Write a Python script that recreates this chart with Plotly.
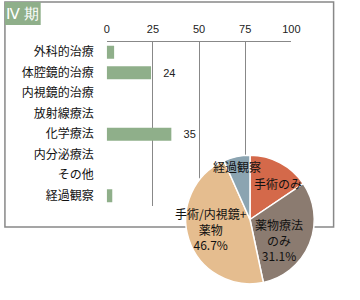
import plotly.graph_objects as go

W, H = 360, 300

categories = ["外科的治療", "体腔鏡的治療", "内視鏡的治療", "放射線療法", "化学療法", "内分泌療法", "その他", "経過観察"]
bar_values = [4, 24, 0, 0, 35, 0, 0, 3]
bar_labels = ["", "24", "", "", "35", "", "", ""]
x_ticks = [0, 25, 50, 75, 100]

pie_labels = ["手術のみ", "薬物療法のみ", "手術/内視鏡+薬物", "経過観察"]
pie_values = [7, 14, 21, 3]
pie_text = ["手術のみ", "薬物療法<br>のみ<br>31.1%", "手術/内視鏡+<br>薬物<br>46.7%", "経過観察"]
pie_text_pos = [(284, 183), (285, 240), (215, 229), (242, 166)]
pie_colors = ["#D4694A", "#8B7B70", "#E5BD8F", "#8BA4B1"]

title_text = "Ⅳ 期"
bar_color = "#8FAF8A"
grid_color = "#888888"
jp_font = "Noto Sans CJK JP"

def px(x):
    return x / W

def py(y):
    return 1 - y / H

fig = go.Figure()

fig.add_trace(go.Bar(
    y=categories, x=bar_values, orientation="h",
    marker=dict(color=bar_color, line=dict(width=0)),
    text=["   " + t if t else "" for t in bar_labels],
    textposition="outside", cliponaxis=False,
    textfont=dict(family="Liberation Sans", size=11, color="#222"),
    xaxis="x", yaxis="y", showlegend=False, hoverinfo="skip",
))

fig.add_trace(go.Pie(
    labels=pie_labels, values=pie_values,
    textinfo="none", textposition="none",
    sort=False, direction="clockwise", rotation=0,
    marker=dict(colors=pie_colors, line=dict(color="white", width=1.5)),
    domain=dict(x=[px(189), px(322)], y=[py(286), py(153)]),
    showlegend=False, hoverinfo="skip",
))

annotations = [
    dict(text=title_text, xref="paper", yref="paper", x=px(20.5), y=py(14),
         showarrow=False, xanchor="center", yanchor="middle",
         font=dict(family="Liberation Serif", size=15, color="white")),
]
for t, (cx, cy) in zip(pie_text, pie_text_pos):
    annotations.append(dict(
        text=t, xref="paper", yref="paper", x=px(cx), y=py(cy),
        showarrow=False, xanchor="center", yanchor="middle", align="center",
        font=dict(family=jp_font, size=12, color="#111"),
    ))

fig.update_layout(
    width=W, height=H,
    margin=dict(l=0, r=0, t=0, b=0),
    paper_bgcolor="white", plot_bgcolor="rgba(0,0,0,0)",
    bargap=0.37,
    xaxis=dict(
        domain=[px(107.3), px(298.3)], range=[0, 100], side="top",
        tickvals=x_ticks, ticktext=[str(v) for v in x_ticks],
        showgrid=True, gridcolor=grid_color, gridwidth=1,
        showline=True, linecolor=grid_color, linewidth=1, zeroline=False,
        ticks="", tickfont=dict(family="Liberation Sans", size=11, color="#222"),
        ticklabelstandoff=4, fixedrange=True,
    ),
    yaxis=dict(
        domain=[py(206), py(42)], autorange="reversed",
        showgrid=False, zeroline=False, showline=False, ticks="",
        tickfont=dict(family=jp_font, size=12, color="#111"),
        ticklabelstandoff=12, fixedrange=True,
    ),
    font=dict(family=jp_font),
    shapes=[
        dict(type="rect", xref="paper", yref="paper",
             x0=px(2), x1=px(342), y0=py(227), y1=py(2),
             line=dict(color="#888888", width=1.5), layer="below"),
        dict(type="rect", xref="paper", yref="paper",
             x0=px(2), x1=px(39), y0=py(25), y1=py(2),
             line=dict(width=0), fillcolor=bar_color, layer="above"),
    ],
    annotations=annotations,
)

fig.write_html("out.html")
